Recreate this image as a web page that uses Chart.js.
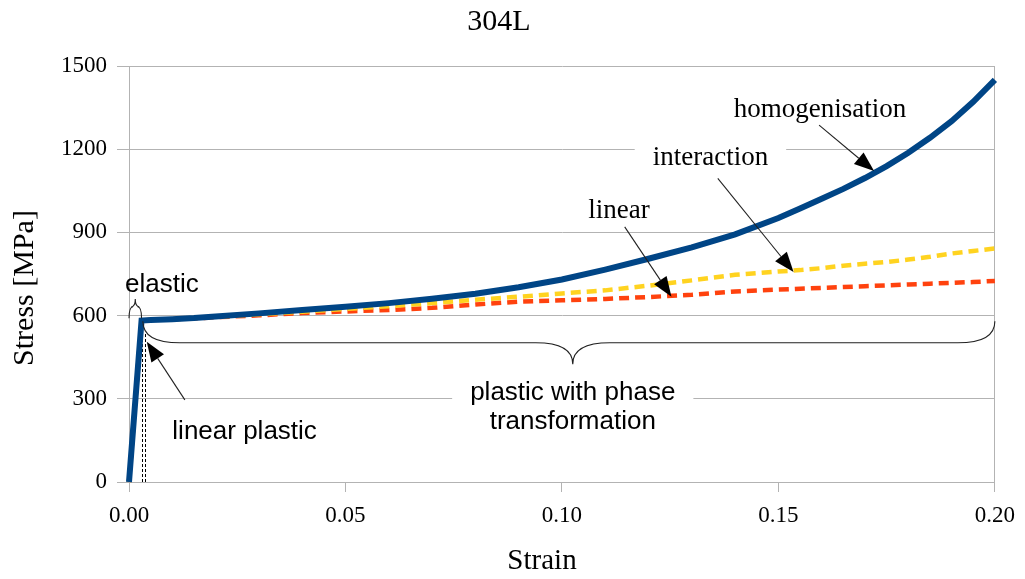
<!DOCTYPE html>
<html>
<head>
<meta charset="utf-8">
<title>304L</title>
<script src="https://cdn.jsdelivr.net/npm/chart.js@4.4.1/dist/chart.umd.min.js"></script>
<style>
  html, body { margin: 0; padding: 0; background: #fff; }
  #wrap { width: 1025px; height: 579px; }
</style>
</head>
<body>
<div id="wrap"><canvas id="chart" width="1025" height="579"></canvas></div>
<script>
// strain points (shared by all three curves)
const strain = [0, 0.0029, 0.005, 0.01, 0.015, 0.02, 0.03, 0.04, 0.05, 0.06, 0.07, 0.08, 0.09, 0.1,
  0.11, 0.12, 0.13, 0.14, 0.15, 0.155, 0.16, 0.165, 0.17, 0.175, 0.18, 0.185, 0.19, 0.195, 0.2];

// stress [MPa] for each model
const homogenisation = [0, 582, 584, 587, 591, 597, 608, 620, 632, 645, 661, 679, 702, 730,
  766, 805, 846, 893, 952, 986, 1021, 1057, 1096, 1139, 1187, 1241, 1301, 1371, 1450];
const interaction = [0, 582, 584, 587, 591, 596, 605, 614, 624, 634, 645, 657, 668, 680,
  691, 708, 727, 747, 759, 764, 771, 780, 787, 793, 802, 812, 824, 833, 842];
const linear = [0, 582, 584, 587, 590, 594, 601, 609, 615, 620, 628, 640, 650, 655,
  660, 667, 675, 687, 694, 697, 700, 703, 706, 709, 712, 715, 718, 721, 725];

// axis ticks
const xTicks = [0, 0.05, 0.1, 0.15, 0.2];
const yTicks = [0, 300, 600, 900, 1200, 1500];

// limits of the elastic and linear plastic zones
const elasticLimit = 0.0029;
const linearPlasticLimit = 0.0037;

const SERIF = "'Liberation Serif', 'Times New Roman', serif";
const SANS = "'Liberation Sans', Arial, sans-serif";
const GRID = "#b3b3b3";

const toXY = ys => strain.map((x, i) => ({ x: x, y: ys[i] }));

// text labels and arrows in data coordinates
const notes = [
  { text: "homogenisation", x: 0.1596, y: 1341, font: "27px " + SERIF, from: [0.1594, 1287], to: [0.1721, 1121] },
  { text: "interaction", x: 0.1343, y: 1168, font: "27px " + SERIF, box: true, from: [0.136, 1095], to: [0.1535, 757] },
  { text: "linear", x: 0.1132, y: 977, font: "27px " + SERIF, from: [0.1145, 920], to: [0.1253, 668] },
  { text: "elastic", x: 0.0076, y: 710, font: "26px " + SANS },
  { text: "linear plastic", x: 0.0267, y: 180, font: "26px " + SANS, from: [0.0129, 296], to: [0.0041, 506] },
  { text: "plastic with phase", x: 0.1025, y: 321, font: "26px " + SANS, box: true },
  { text: "transformation", x: 0.1025, y: 216, font: "26px " + SANS }
];

function brace(ctx, x1, x2, xm, yEnd, yMid, yTip, r) {
  ctx.beginPath();
  ctx.moveTo(x1, yEnd);
  ctx.quadraticCurveTo(x1, yMid, x1 + r, yMid);
  ctx.lineTo(xm - r, yMid);
  ctx.quadraticCurveTo(xm, yMid, xm, yTip);
  ctx.quadraticCurveTo(xm, yMid, xm + r, yMid);
  ctx.lineTo(x2 - r, yMid);
  ctx.quadraticCurveTo(x2, yMid, x2, yEnd);
  ctx.stroke();
}

function arrow(ctx, x1, y1, x2, y2) {
  const a = Math.atan2(y2 - y1, x2 - x1);
  const len = 20, hw = 7.5;
  ctx.beginPath();
  ctx.moveTo(x1, y1);
  ctx.lineTo(x2 - Math.cos(a) * len, y2 - Math.sin(a) * len);
  ctx.stroke();
  ctx.beginPath();
  ctx.moveTo(x2, y2);
  ctx.lineTo(x2 - Math.cos(a) * len - Math.sin(a) * hw, y2 - Math.sin(a) * len + Math.cos(a) * hw);
  ctx.lineTo(x2 - Math.cos(a) * len + Math.sin(a) * hw, y2 - Math.sin(a) * len - Math.cos(a) * hw);
  ctx.closePath();
  ctx.fill();
}

const annotations = {
  id: "annotations",
  beforeDatasetsDraw(chart) {
    const ctx = chart.ctx, xs = chart.scales.x, ys = chart.scales.y;
    ctx.save();
    // white boxes behind some labels (cut the gridlines)
    notes.filter(n => n.box).forEach(n => {
      ctx.font = n.font;
      const w = ctx.measureText(n.text).width + 36;
      ctx.fillStyle = "#fff";
      ctx.fillRect(xs.getPixelForValue(n.x) - w / 2, ys.getPixelForValue(n.y) - 14, w, 28);
    });
    // dotted lines at the zone limits
    ctx.strokeStyle = "#000";
    ctx.lineWidth = 1;
    ctx.setLineDash([3, 2]);
    [elasticLimit, linearPlasticLimit].forEach(v => {
      const px = Math.round(xs.getPixelForValue(v)) + 0.5;
      ctx.beginPath();
      ctx.moveTo(px, ys.getPixelForValue(0));
      ctx.lineTo(px, ys.getPixelForValue(540));
      ctx.stroke();
    });
    ctx.restore();
  },
  afterDatasetsDraw(chart) {
    const ctx = chart.ctx, xs = chart.scales.x, ys = chart.scales.y;
    const X = v => xs.getPixelForValue(v), Y = v => ys.getPixelForValue(v);
    ctx.save();
    ctx.strokeStyle = "#222";
    ctx.fillStyle = "#000";
    ctx.lineWidth = 1.1;
    // small brace over the elastic part
    brace(ctx, X(0), X(elasticLimit), (X(0) + X(elasticLimit)) / 2, Y(590), Y(632), Y(660), 4);
    // big brace over the plastic part
    brace(ctx, X(0.0032), X(0.2), X(0.1025), Y(580), Y(502), Y(425), 37);

    notes.forEach(n => {
      if (n.from) arrow(ctx, X(n.from[0]), Y(n.from[1]), X(n.to[0]), Y(n.to[1]));
    });

    ctx.fillStyle = "#000";
    ctx.textAlign = "center";
    ctx.textBaseline = "middle";
    notes.forEach(n => {
      ctx.font = n.font;
      ctx.fillText(n.text, X(n.x), Y(n.y));
    });

    // axis titles
    ctx.font = "29px " + SERIF;
    ctx.fillText("Strain", 542, 561);
    ctx.font = "30px " + SERIF;
    ctx.translate(25, 288);
    ctx.rotate(-Math.PI / 2);
    ctx.fillText("Stress [MPa]", 0, 0);
    ctx.restore();
  }
};

const ctx = document.getElementById("chart").getContext("2d");
new Chart(ctx, {
  type: "line",
  data: {
    datasets: [
      { label: "homogenisation", data: toXY(homogenisation), borderColor: "#004586", borderWidth: 6, pointRadius: 0, tension: 0, clip: 8 },
      { label: "interaction", data: toXY(interaction), borderColor: "#ffd320", borderWidth: 4.5, borderDash: [10, 6], pointRadius: 0, tension: 0, clip: 8 },
      { label: "linear", data: toXY(linear), borderColor: "#ff420e", borderWidth: 4.5, borderDash: [10, 6], pointRadius: 0, tension: 0, clip: 8 }
    ]
  },
  options: {
    responsive: false,
    animation: false,
    devicePixelRatio: 1,
    layout: { padding: { left: 0, right: 27, top: 0, bottom: 0 } },
    plugins: {
      legend: { display: false },
      tooltip: { enabled: false },
      title: {
        display: true,
        text: "304L",
        color: "#000",
        font: { family: SERIF, size: 30, weight: "normal", lineHeight: 1.2 },
        padding: { top: 4, bottom: 26 }
      }
    },
    scales: {
      x: {
        type: "linear",
        min: xTicks[0],
        max: xTicks[xTicks.length - 1],
        afterBuildTicks: s => { s.ticks = xTicks.map(v => ({ value: v })); },
        afterFit: s => { s.height = 97; },
        ticks: {
          color: "#000",
          font: { family: SERIF, size: 23 },
          padding: 10,
          maxRotation: 0,
          callback: v => v.toFixed(2)
        },
        grid: {
          color: c => (c.tick && Math.abs(c.tick.value - 0.2) < 1e-9) ? GRID : "rgba(0,0,0,0)",
          tickColor: GRID,
          tickLength: 10
        },
        border: { color: GRID }
      },
      y: {
        type: "linear",
        min: yTicks[0],
        max: yTicks[yTicks.length - 1],
        afterBuildTicks: s => { s.ticks = yTicks.map(v => ({ value: v })); },
        afterFit: s => { s.width = 129; },
        ticks: {
          color: "#000",
          font: { family: SERIF, size: 23 },
          padding: 10,
          callback: v => String(v)
        },
        grid: { color: GRID, tickColor: GRID, tickLength: 12 },
        border: { color: GRID }
      }
    }
  },
  plugins: [annotations]
});
</script>
</body>
</html>
